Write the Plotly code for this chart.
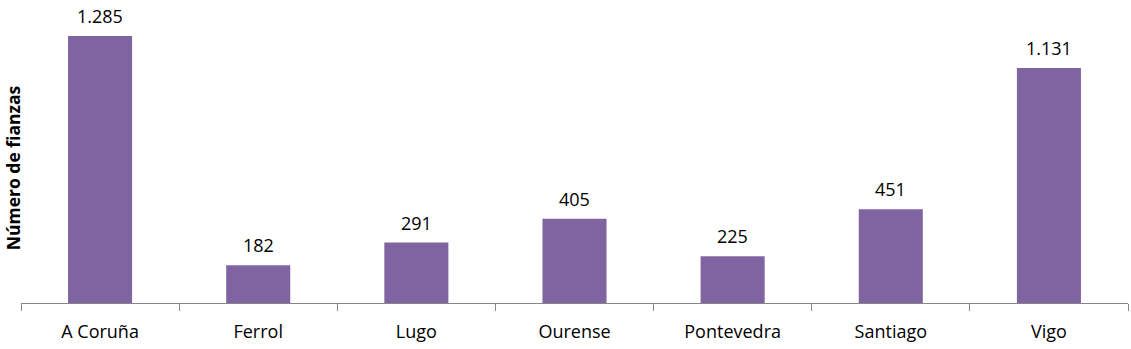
import plotly.graph_objects as go

categories = ["A Coruña", "Ferrol", "Lugo", "Ourense", "Pontevedra", "Santiago", "Vigo"]
values = [1285, 182, 291, 405, 225, 451, 1131]

fig = go.Figure(go.Bar(
    x=categories,
    y=values,
    marker=dict(color="#8064A2", line=dict(width=0)),
))

for c, v in zip(categories, values):
    fig.add_annotation(
        x=c, y=v, xref="x", yref="y",
        text=f"{v:,}".replace(",", "."),
        showarrow=False, yanchor="bottom", yshift=6,
        font=dict(family="Open Sans", size=18, color="#000000"),
    )

fig.update_layout(
    width=1131, height=349,
    margin=dict(l=21, r=3, t=10, b=46),
    paper_bgcolor="white", plot_bgcolor="white",
    separators=",.",
    bargap=0.595,
    showlegend=False,
    font=dict(family="Open Sans", size=18, color="#000000"),
)
fig.update_xaxes(
    type="category",
    showline=True, linecolor="#868686", linewidth=1,
    ticks="outside", tickson="boundaries", ticklen=7, tickcolor="#868686",
    tickfont=dict(family="Open Sans", size=18, color="#000000"),
    ticklabelstandoff=12,
    showgrid=False,
)
fig.update_yaxes(
    range=[0, 1410], visible=False, showgrid=False, zeroline=False,
)
fig.add_annotation(
    text="<b>Número de fianzas</b>", textangle=-90,
    xref="paper", yref="paper", x=0, y=0.46, xshift=-8,
    xanchor="center", yanchor="middle", showarrow=False,
    font=dict(family="Open Sans", size=17.5, color="#000000"),
)

fig.write_html("out.html")
